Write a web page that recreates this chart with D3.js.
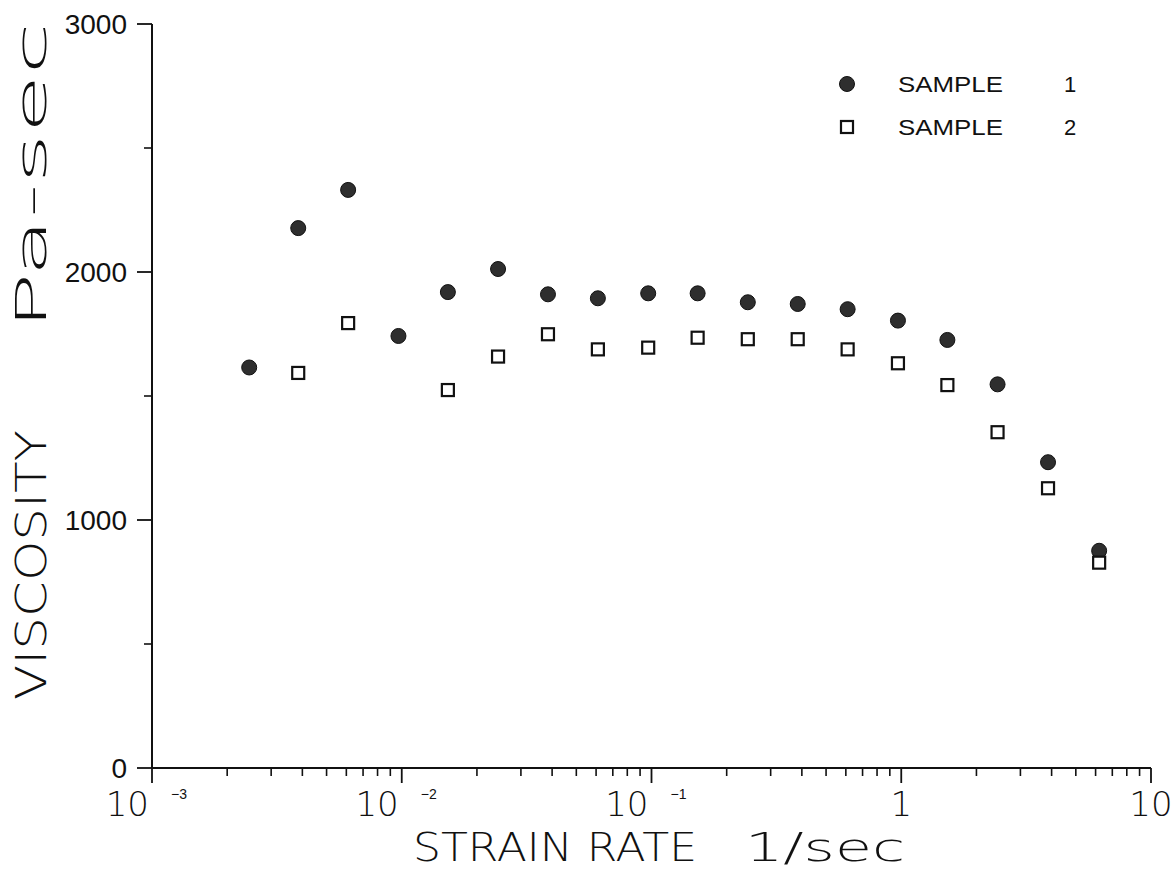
<!DOCTYPE html>
<html><head><meta charset="utf-8">
<script src="https://cdn.jsdelivr.net/npm/d3@7/dist/d3.min.js"></script>
<style>
html,body{margin:0;padding:0;background:#fff;}
svg{display:block;}
.thin{font-family:"DejaVu Sans","Liberation Sans",sans-serif;font-weight:200;}
.helv{font-family:"Liberation Sans",Arial,sans-serif;}
</style></head>
<body>
<svg id="chart" width="1175" height="877"></svg>
<script>
// ---- data ----
const sample1Rate = [0.00245,0.00385,0.0061,0.0097,0.0153,0.0243,0.0385,0.061,0.097,0.153,0.243,0.385,0.61,0.97,1.53,2.43,3.87,6.2];
const sample1Visc = [1615,2177,2331,1742,1919,2012,1910,1894,1914,1914,1878,1871,1850,1804,1726,1547,1233,876];
const sample2Rate = [0.00385,0.0061,0.0153,0.0243,0.0385,0.061,0.097,0.153,0.243,0.385,0.61,0.97,1.53,2.43,3.87,6.2];
const sample2Visc = [1593,1794,1524,1659,1749,1688,1695,1735,1729,1729,1688,1632,1544,1354,1128,828];
const yTickValues = [0,1000,2000,3000];
const yMinorValues = [500,1500,2500];
const xMajorTicks = [1e-3,1e-2,1e-1,1,10];
const xTickLabels = [["10","−3"],["10","−2"],["10","−1"],["1",""],["10",""]];
const legendLabels = [["SAMPLE","1"],["SAMPLE","2"]];
const xTitle = ["STRAIN RATE","1/sec"];
const yTitle = ["VISCOSITY","Pa-sec"];

// ---- layout ----
const svg = d3.select("#chart");
const x = d3.scaleLog().domain([1e-3,10]).range([152,1151]);
const y = d3.scaleLinear().domain([0,3000]).range([768,24]);
const ink = "#111";

// axes lines
svg.append("line").attr("x1",x(1e-3)).attr("x2",x(10)).attr("y1",y(0)).attr("y2",y(0))
  .attr("stroke",ink).attr("stroke-width",2);
svg.append("line").attr("x1",x(1e-3)).attr("x2",x(1e-3)).attr("y1",y(3000)).attr("y2",y(0))
  .attr("stroke",ink).attr("stroke-width",2);

// x minor ticks
const xMinor = [];
for (let e=-3;e<1;e++) for (let m=2;m<=9;m++) xMinor.push(m*Math.pow(10,e));
svg.selectAll(".xminor").data(xMinor).enter().append("line")
  .attr("x1",d=>x(d)).attr("x2",d=>x(d)).attr("y1",y(0)).attr("y2",y(0)+8)
  .attr("stroke",ink).attr("stroke-width",1.6);
svg.selectAll(".xmajor").data(xMajorTicks).enter().append("line")
  .attr("x1",d=>x(d)).attr("x2",d=>x(d)).attr("y1",y(0)).attr("y2",y(0)+15)
  .attr("stroke",ink).attr("stroke-width",1.8);

// y ticks
svg.selectAll(".ymajor").data(yTickValues).enter().append("line")
  .attr("x1",x(1e-3)-15).attr("x2",x(1e-3)).attr("y1",d=>y(d)).attr("y2",d=>y(d))
  .attr("stroke",ink).attr("stroke-width",1.8);
svg.selectAll(".yminor").data(yMinorValues).enter().append("line")
  .attr("x1",x(1e-3)-8).attr("x2",x(1e-3)).attr("y1",d=>y(d)).attr("y2",d=>y(d))
  .attr("stroke",ink).attr("stroke-width",1.6);

// y tick labels
svg.selectAll(".ylab").data(yTickValues).enter().append("text")
  .attr("class","helv").attr("x",127).attr("y",d=>y(d)+10)
  .attr("text-anchor","end").attr("font-size",28).attr("fill",ink)
  .text(d=>d);

// x tick labels
xMajorTicks.forEach((v,i)=>{
  const [base,sup] = xTickLabels[i];
  if (sup) {
    svg.append("text").attr("class","thin").attr("x",x(v)-3).attr("y",816)
      .attr("text-anchor","end").attr("font-size",34).attr("fill",ink).text(base);
    svg.append("text").attr("class","helv").attr("x",x(v)+19).attr("y",799)
      .attr("text-anchor","start").attr("font-size",14).attr("fill",ink).text(sup);
  } else {
    svg.append("text").attr("class","thin").attr("x",x(v)).attr("y",816)
      .attr("text-anchor","middle").attr("font-size",34).attr("fill",ink).text(base);
  }
});

// axis titles
svg.append("text").attr("class","thin").attr("x",413).attr("y",861)
  .attr("font-size",39).attr("fill",ink).attr("textLength",284).attr("lengthAdjust","spacingAndGlyphs")
  .text(xTitle[0]);
svg.append("text").attr("class","thin").attr("x",745).attr("y",861)
  .attr("font-size",39).attr("fill",ink).attr("textLength",160).attr("lengthAdjust","spacingAndGlyphs")
  .text(xTitle[1]);
svg.append("text").attr("class","thin").attr("transform","translate(46,700) rotate(-90)")
  .attr("font-size",43).attr("fill",ink).attr("textLength",270).attr("lengthAdjust","spacingAndGlyphs")
  .text(yTitle[0]);
svg.append("text").attr("class","thin").attr("transform","translate(46,330) rotate(-90)")
  .attr("font-size",43).attr("fill",ink).attr("textLength",308).attr("lengthAdjust","spacingAndGlyphs")
  .text(yTitle[1]);

// data
const s1 = sample1Rate.map((r,i)=>({r,v:sample1Visc[i]}));
const s2 = sample2Rate.map((r,i)=>({r,v:sample2Visc[i]}));
svg.selectAll(".s1").data(s1).enter().append("circle")
  .attr("cx",d=>x(d.r)).attr("cy",d=>y(d.v)).attr("r",7.5)
  .attr("fill","#2e2e2e").attr("stroke",ink).attr("stroke-width",1);
svg.selectAll(".s2").data(s2).enter().append("rect")
  .attr("x",d=>x(d.r)-6).attr("y",d=>y(d.v)-6).attr("width",12).attr("height",12)
  .attr("fill","#fff").attr("stroke",ink).attr("stroke-width",2.2);

// legend
svg.append("circle").attr("cx",847).attr("cy",84).attr("r",7.5)
  .attr("fill","#2e2e2e").attr("stroke",ink).attr("stroke-width",1);
svg.append("rect").attr("x",841).attr("y",121).attr("width",12).attr("height",12)
  .attr("fill","#fff").attr("stroke",ink).attr("stroke-width",2.2);
legendLabels.forEach((l,i)=>{
  const by = 92 + i*43;
  svg.append("text").attr("class","helv").attr("x",898).attr("y",by)
    .attr("font-size",22).attr("fill",ink).attr("textLength",105).attr("lengthAdjust","spacingAndGlyphs").text(l[0]);
  svg.append("text").attr("class","helv").attr("x",1070).attr("y",by)
    .attr("text-anchor","middle").attr("font-size",22).attr("fill",ink).text(l[1]);
});
</script>
</body></html>
